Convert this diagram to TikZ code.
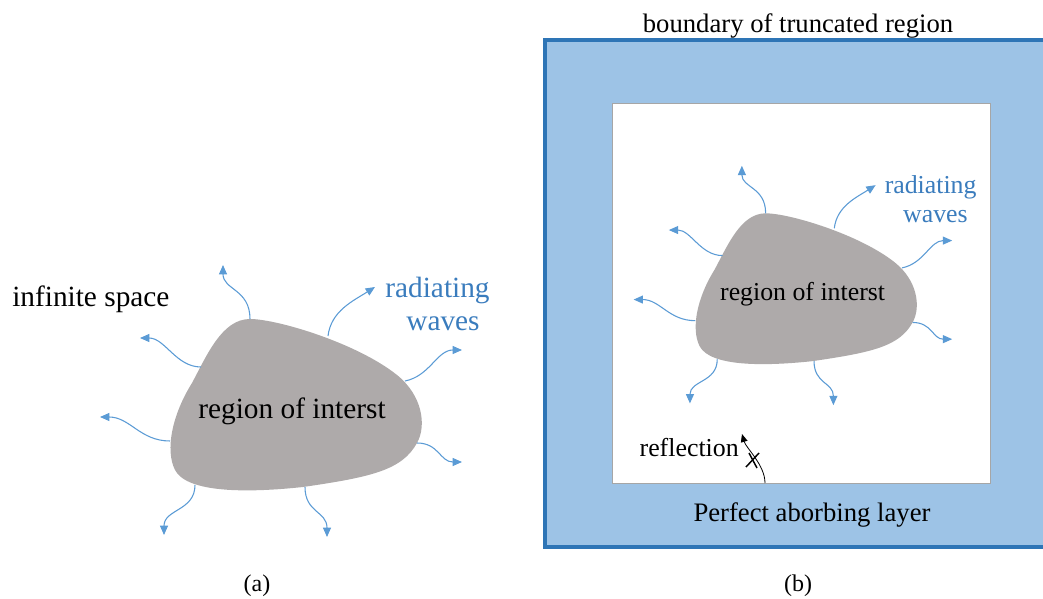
\documentclass[tikz,border=0pt]{standalone}
\usepackage{fontspec}
\setmainfont{Liberation Serif}
\usetikzlibrary{arrows.meta}
\definecolor{layerblue}{HTML}{9DC3E6}
\definecolor{edgeblue}{HTML}{2E75B6}
\definecolor{waveblue}{HTML}{5B9BD5}
\definecolor{labelblue}{HTML}{3A7CBD}
\definecolor{blobgray}{HTML}{AEAAAA}
\definecolor{innergray}{HTML}{A6A6A6}
\tikzset{
  wave/.style={draw=waveblue, line width=0.8pt, -{Triangle[length=7pt,width=6pt]}},
  bigtext/.style={inner sep=0pt, anchor=base, font=\fontsize{22pt}{26pt}\selectfont},
  midtext/.style={inner sep=0pt, anchor=base, font=\fontsize{20pt}{24pt}\selectfont},
  scene/.pic={
    \fill[blobgray] (-47,-86) .. controls (-20,-86) and (60,-62) .. (100,-30)
      .. controls (125,-10) and (130,20) .. (120,38)
      .. controls (105,65) and (75,72) .. (6,82)
      .. controls (-50,88) and (-110,88) .. (-122,65)
      .. controls (-132,45) and (-125,10) .. (-105,-22)
      .. controls (-90,-50) and (-75,-86) .. cycle;
    \node[bigtext] (-roi) at (-5,13) {region of interst};
    \node[bigtext, text=labelblue] (-rad) at (140.5,-108) {radiating};
    \node[bigtext, text=labelblue] (-wav) at (146,-75) {waves};
    \coordinate (-s1) at (-47,-86);  \coordinate (-e1) at (-74,-140);
    \coordinate (-s2) at (31,-69);   \coordinate (-e2) at (78,-118);
    \coordinate (-s3) at (108,-24);  \coordinate (-e3) at (165,-55);
    \coordinate (-s4) at (120,38);   \coordinate (-e4) at (165,57);
    \coordinate (-s5) at (8,82);     \coordinate (-e5) at (30,132);
    \coordinate (-s6) at (-102,80);  \coordinate (-e6) at (-133,130);
    \coordinate (-s7) at (-127,36);  \coordinate (-e7) at (-197,12);
    \coordinate (-s8) at (-96,-38);  \coordinate (-e8) at (-157,-67);
    \draw[wave] (-s1) .. controls +(0,-30) and +(0,25) .. (-e1);
    \draw[wave] (-s2) .. controls +(3,-25) and +(-22,14) .. (-e2);
    \draw[wave] (-s3) .. controls +(25,-5) and +(-25,0) .. (-e3);
    \draw[wave] (-s4) .. controls +(22,0) and +(-22,0) .. (-e4);
    \draw[wave] (-s5) .. controls +(0,26) and +(0,-26) .. (-e5);
    \draw[wave] (-s6) .. controls +(0,26) and +(0,-26) .. (-e6);
    \draw[wave] (-s7) .. controls +(-30,0) and +(30,0) .. (-e7);
    \draw[wave] (-s8) .. controls +(-25,0) and +(25,0) .. (-e8);
  }
}
\begin{document}
\begin{tikzpicture}[x=0.75pt, y=-0.75pt]
\useasboundingbox (0,0) rectangle (1043,599);
% (b) layer
\draw[draw=edgeblue, fill=layerblue, line width=3pt] (545,40.5) rectangle (1070,547);
\draw[draw=innergray, fill=white, line width=0.75pt] (612,104) rectangle (990,483);
% scenes
\pic (A) at (297,405) {scene};
\pic[scale=0.88, transform shape] (B) at (807,289) {scene};
% labels
\node[bigtext, anchor=base west] (inf) at (12,306) {infinite space};
\node[midtext] (bnd) at (798,33) {boundary of truncated region};
\node[midtext] (pal) at (812,521) {Perfect aborbing layer};
\node[inner sep=0pt, anchor=base east, font=\fontsize{19.4pt}{23pt}\selectfont] (refl) at (739,456) {reflection};
\node[inner sep=0pt, anchor=base, font=\fontsize{18pt}{22pt}\selectfont] (capa) at (257,591) {(a)};
\node[inner sep=0pt, anchor=base, font=\fontsize{18pt}{22pt}\selectfont] (capb) at (798,591) {(b)};
% reflection arrow
\coordinate (rs) at (765,483);
\coordinate (rt) at (742,434);
\draw[black, line width=0.6pt, -{Triangle[length=6pt,width=5pt]}] (rs) .. controls +(0,-18) and +(4,14) .. (rt);
\draw[black, line width=1.1pt] (749,453) -- (757,468);
\draw[black, line width=1.1pt] (746,467) -- (759,453);
\end{tikzpicture}
\end{document}
